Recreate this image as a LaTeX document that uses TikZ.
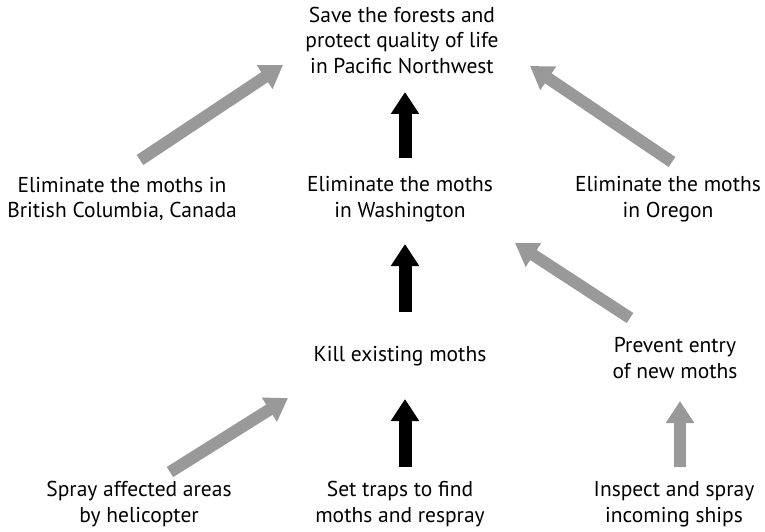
\documentclass[tikz,border=0pt]{standalone}
\usepackage{fontspec}
\setmainfont{PT Sans}
\usetikzlibrary{arrows.meta}
\definecolor{arrgray}{gray}{0.6}
\begin{document}
\begin{tikzpicture}[x=1pt, y=-1pt,
  txt/.style={align=center, inner sep=0pt, font=\fontsize{21.5}{25.5}\selectfont},
  blackarr/.style={line width=13pt, draw=black, -{Triangle[length=22pt,width=27pt]}},
  grayarr/.style={line width=12pt, draw=arrgray, -{Triangle[length=22pt,width=27pt]}}]
  \useasboundingbox (0,0) rectangle (765,532);
  % goals
  \node[txt] (goal) at (402,40) {Save the forests and\\protect quality of life\\in Pacific Northwest};
  \node[txt] (bc) at (122,199) {Eliminate the moths in\\British Columbia, Canada};
  \node[txt] (wa) at (400,199) {Eliminate the moths\\in Washington};
  \node[txt] (or) at (668,199) {Eliminate the moths\\in Oregon};
  \node[txt] (kill) at (400,356) {Kill existing moths};
  \node[txt] (prev) at (675,358) {Prevent entry\\of new moths};
  \node[txt] (spray) at (139,504) {Spray affected areas\\by helicopter};
  \node[txt] (traps) at (400,504) {Set traps to find\\moths and respray};
  \node[txt] (ship) at (674,504) {Inspect and spray\\incoming ships};
  % arrows
  \draw[grayarr] ([shift={(18,-39)}]bc.center) -- ([shift={(-119,25)}]goal.center);
  \draw[blackarr] ([shift={(5,-41)}]wa.center) -- ([shift={(3,52)}]goal.center);
  \draw[grayarr] ([shift={(4,-37)}]or.center) -- ([shift={(128,26)}]goal.center);
  \draw[blackarr] ([shift={(5,-44)}]kill.center) -- ([shift={(5,45)}]wa.center);
  \draw[grayarr] ([shift={(-45,-40)}]prev.center) -- ([shift={(115,44)}]wa.center);
  \draw[grayarr] ([shift={(31,-32)}]spray.center) -- ([shift={(-112,42)}]kill.center);
  \draw[blackarr] ([shift={(5,-37)}]traps.center) -- ([shift={(5,43)}]kill.center);
  \draw[grayarr] ([shift={(6,-37)}]ship.center) -- ([shift={(5,43)}]prev.center);
\end{tikzpicture}
\end{document}
